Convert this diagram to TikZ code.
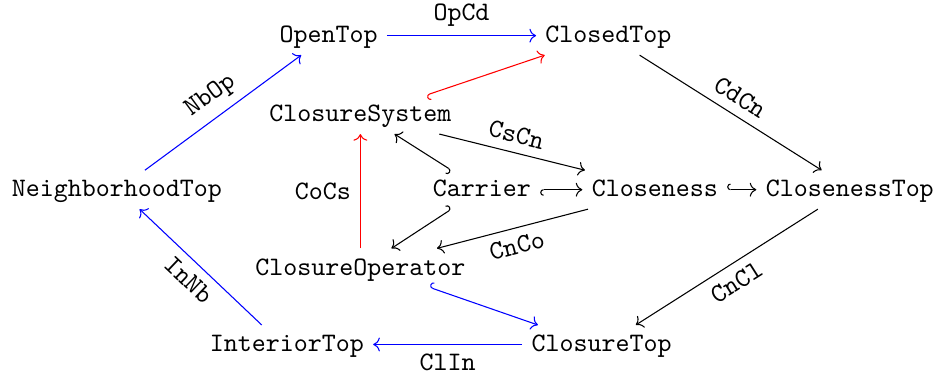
\documentclass[tikz,border=0pt]{standalone}
\usepackage{amsmath}
\usepackage{tikz}
\usetikzlibrary{arrows.meta}

\begin{document}
\begin{tikzpicture}[
	obj/.style={font=\ttfamily, text height=1.5ex, text depth=.25ex},
	lbl/.style={font=\ttfamily, text=black},
	map/.style={->},
	emb/.style={{Hooks[right]}->},
	embl/.style={{Hooks[left]}->}]
	\useasboundingbox (-1.54,-2.48) rectangle (10.81,2.50);

	% the ten structures
	\node[obj] (nb)   at (0,0)         {NeighborhoodTop};
	\node[obj] (op)   at (2.79,2.03)   {OpenTop};
	\node[obj] (ct)   at (6.48,2.03)   {ClosedTop};
	\node[obj] (csys) at (3.21,0.99)   {ClosureSystem};
	\node[obj] (car)  at (4.81,0)      {Carrier};
	\node[obj] (cn)   at (7.09,0)      {Closeness};
	\node[obj] (cnt)  at (9.66,0)      {ClosenessTop};
	\node[obj] (cop)  at (3.21,-1.03)  {ClosureOperator};
	\node[obj] (it)   at (2.24,-2.04)  {InteriorTop};
	\node[obj] (cl)   at (6.39,-2.04)  {ClosureTop};

	% outer ring
	\draw[map, blue] ([xshift=0.37cm]nb.north) -- node[lbl, sloped, above] {NbOp} ([xshift=-0.36cm]op.south);
	\draw[map, blue] (op) -- node[lbl, above] {OpCd} (ct);
	\draw[map] ([xshift=0.41cm]ct.south) -- node[lbl, sloped, above] {CdCn} ([xshift=-0.37cm]cnt.north);
	\draw[map] ([xshift=-0.42cm]cnt.south) -- node[lbl, sloped, below] {CnCl} ([xshift=0.45cm]cl.north);
	\draw[map, blue] (cl) -- node[lbl, below] {ClIn} (it);
	\draw[map, blue] ([xshift=-0.33cm]it.north) -- node[lbl, sloped, below] {InNb} ([xshift=0.30cm]nb.south);

	% inner part
	\draw[map] ([xshift=1.04cm]csys.south) -- node[lbl, sloped, above] {CsCn} ([xshift=-0.92cm]cn.north);
	\draw[map] ([xshift=-0.88cm]cn.south) -- node[lbl, sloped, below] {CnCo} ([xshift=1.01cm]cop.north);
	\draw[map, red] (cop) -- node[lbl, left] {CoCs} (csys);
	\draw[embl] (car) -- (cn);
	\draw[emb] (cn) -- (cnt);
	\draw[emb] ([xshift=-0.40cm]car.north) -- ([xshift=0.45cm]csys.south);
	\draw[embl] ([xshift=-0.40cm]car.south) -- ([xshift=0.41cm]cop.north);
	\draw[embl, red] ([xshift=0.87cm]csys.north) -- ([xshift=-0.84cm]ct.south);
	\draw[emb, blue] ([xshift=0.91cm]cop.south) -- ([xshift=-0.84cm]cl.north);
\end{tikzpicture}
\end{document}
